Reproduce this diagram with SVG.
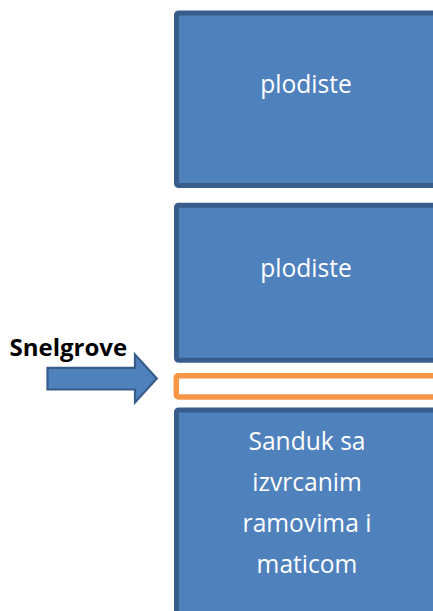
<svg xmlns="http://www.w3.org/2000/svg" width="433" height="611" viewBox="0 0 433 611">
<style>
.box{fill:#4F81BD;stroke:#385D8A;stroke-width:5}
.tray{fill:#FFFFFF;stroke:#F79646;stroke-width:5.5}
.lbl{font-family:"Open Sans","Liberation Sans",sans-serif;font-size:24.6px;fill:#FFFFFF;text-anchor:middle}
.side{font-family:"Open Sans","Liberation Sans",sans-serif;font-size:24px;font-weight:bold;fill:#000000}
.arrow{fill:#4F81BD;stroke:#385D8A;stroke-width:2.2;stroke-linejoin:miter}
</style>
<rect width="433" height="611" fill="#FFFFFF"/>
<g id="plodiste1">
<rect class="box" x="176.5" y="13" width="270" height="172.5" rx="2"/>
<text class="lbl" x="306" y="93">plodiste</text>
</g>
<g id="plodiste2">
<rect class="box" x="176.5" y="205.3" width="270" height="155" rx="2"/>
<text class="lbl" x="306" y="277">plodiste</text>
</g>
<g id="snelgrove-board">
<rect class="tray" x="176.3" y="375.7" width="270" height="21.3" rx="2"/>
</g>
<g id="sanduk">
<rect class="box" x="176.5" y="410" width="270" height="220" rx="2"/>
<text class="lbl" x="307" y="450">Sanduk sa</text>
<text class="lbl" x="307" y="491">izvrcanim</text>
<text class="lbl" x="307" y="532">ramovima i</text>
<text class="lbl" x="307" y="573">maticom</text>
</g>
<g id="snelgrove-label">
<text class="side" x="9.5" y="356">Snelgrove</text>
</g>
<g id="connectors">
<polygon class="arrow" points="47.5,367.8 135,367.8 135,354.5 156.8,378.6 135,402.5 135,389.5 47.5,389.5"/>
</g>
</svg>
